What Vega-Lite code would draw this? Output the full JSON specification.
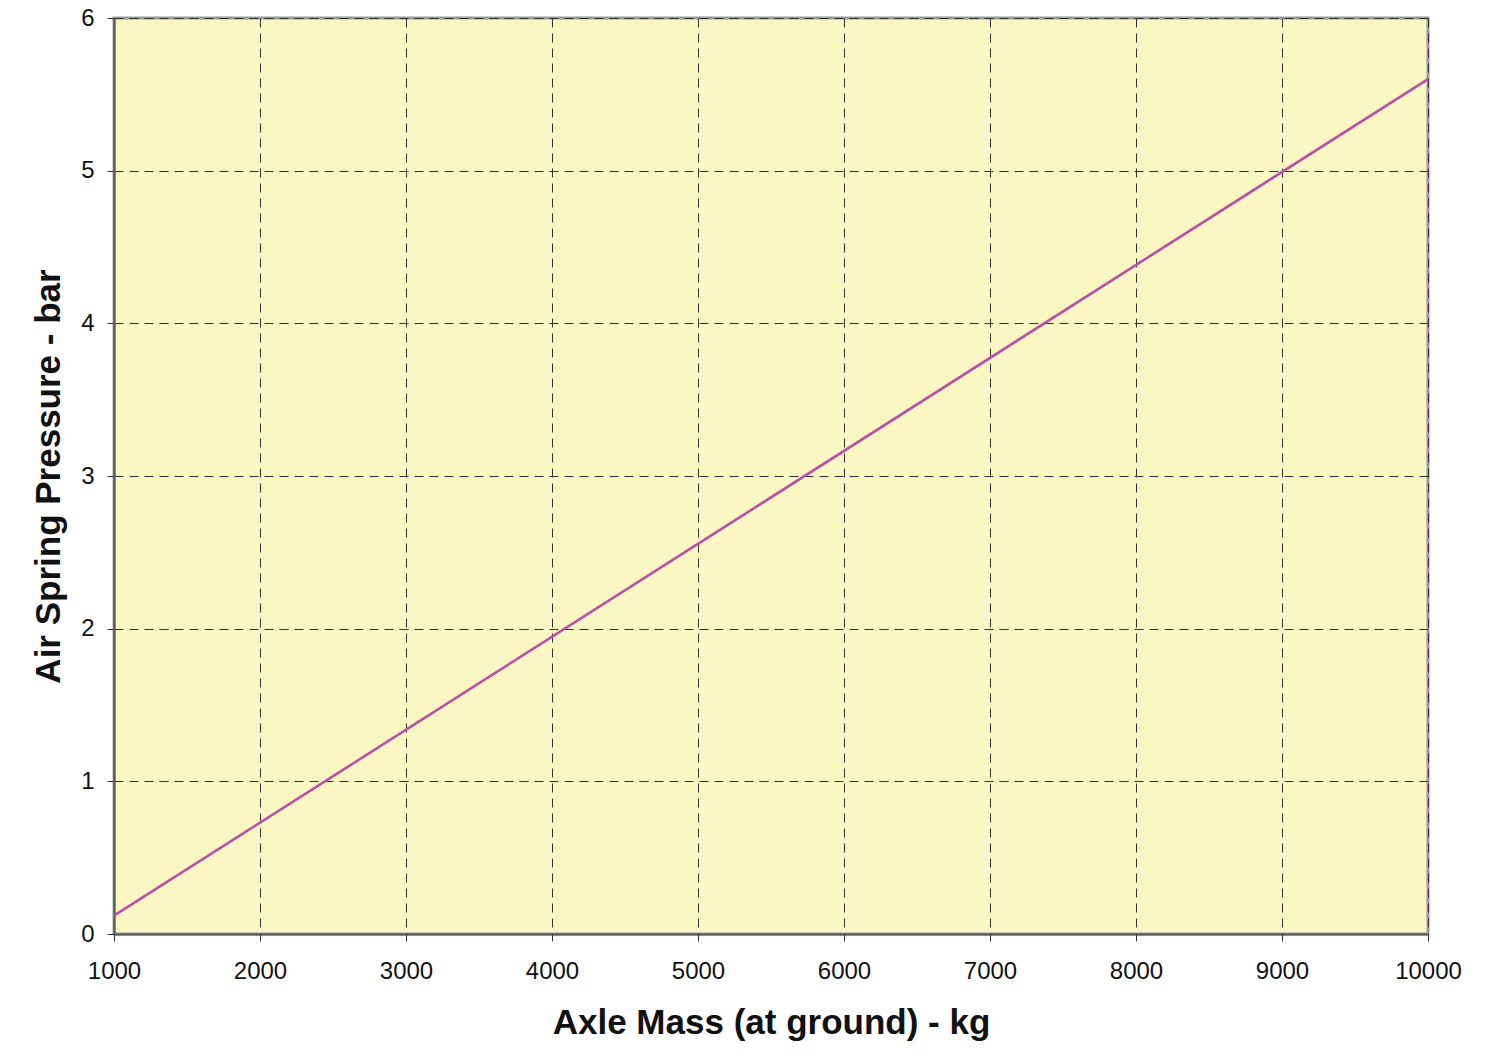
{
  "$schema": "https://vega.github.io/schema/vega-lite/v6.json",
  "width": 1314,
  "height": 916,
  "autosize": {"type": "none"},
  "padding": {"left": 114, "top": 18, "right": 68, "bottom": 130},
  "background": "white",
  "config": {
    "font": "Liberation Sans",
    "view": {"fill": "#FAF7C2", "stroke": "#9A9A9A", "strokeWidth": 3},
    "axis": {
      "gridColor": "#333333",
      "gridDash": [9, 6],
      "gridWidth": 1,
      "gridOpacity": 1,
      "domainColor": "#555555",
      "domainWidth": 2,
      "tickColor": "#333333",
      "tickSize": 7,
      "tickWidth": 1,
      "labelFont": "Liberation Sans",
      "labelFontSize": 24,
      "labelColor": "#111111",
      "titleFont": "Liberation Sans",
      "titleFontSize": 35,
      "titleFontWeight": "bold",
      "titleColor": "#111111"
    }
  },
  "data": {
    "values": [
      {"mass": 1000, "pressure": 0.12},
      {"mass": 10000, "pressure": 5.6}
    ]
  },
  "mark": {"type": "line", "color": "#B94FA8", "strokeWidth": 2.6},
  "encoding": {
    "x": {
      "field": "mass",
      "type": "quantitative",
      "scale": {"domain": [1000, 10000], "nice": false, "zero": false},
      "axis": {
        "title": "Axle Mass (at ground) - kg",
        "values": [1000, 2000, 3000, 4000, 5000, 6000, 7000, 8000, 9000, 10000],
        "format": "d",
        "labelPadding": 18,
        "titlePadding": 22,
        "labelFlush": false,
        "labelOverlap": false
      }
    },
    "y": {
      "field": "pressure",
      "type": "quantitative",
      "scale": {"domain": [0, 6], "nice": false},
      "axis": {
        "title": "Air Spring Pressure - bar",
        "values": [0, 1, 2, 3, 4, 5, 6],
        "labelPadding": 13,
        "titlePadding": 14
      }
    }
  }
}
